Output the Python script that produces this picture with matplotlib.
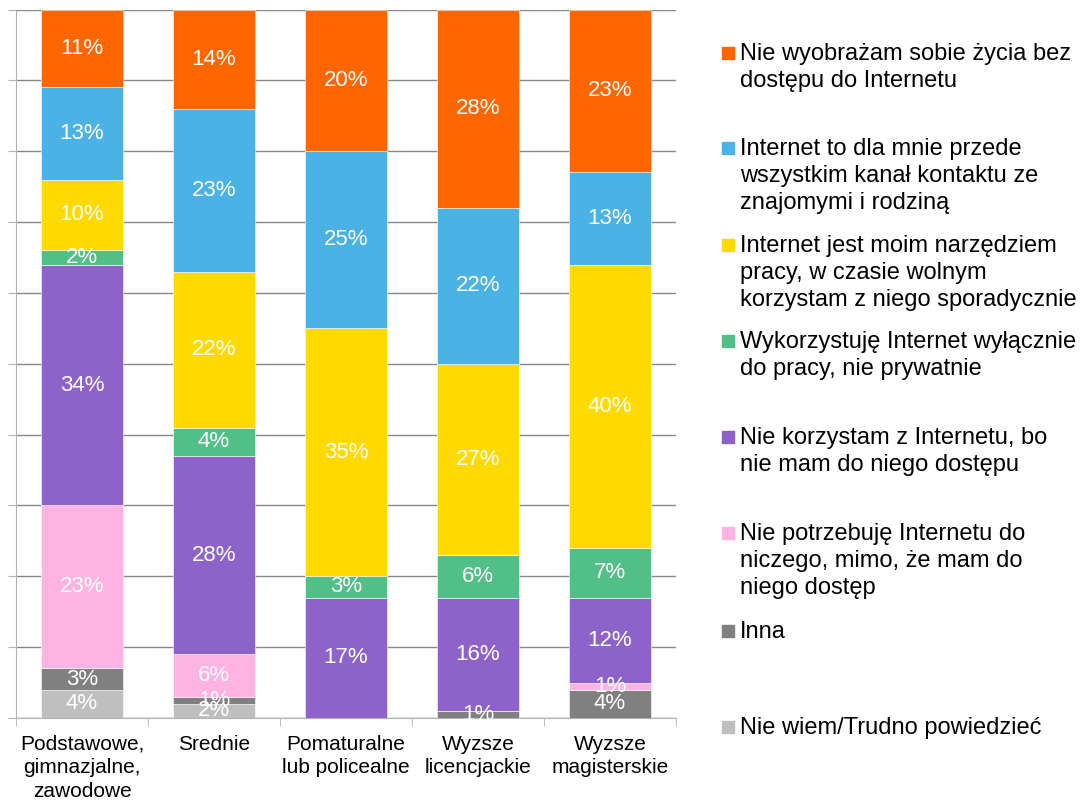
import numpy as np
import matplotlib.pyplot as plt
from matplotlib.patches import Rectangle

plt.rcParams['font.family'] = ['Liberation Sans', 'DejaVu Sans']

categories = ["Podstawowe,\ngimnazjalne,\nzawodowe", "Srednie",
              "Pomaturalne\nlub policealne", "Wyzsze\nlicencjackie",
              "Wyzsze\nmagisterskie"]

# series listed bottom -> top of the stack
series_names = [
    "Nie wiem/Trudno powiedzieć",
    "Inna",
    "Nie potrzebuję Internetu do\nniczego, mimo, że mam do\nniego dostęp",
    "Nie korzystam z Internetu, bo\nnie mam do niego dostępu",
    "Wykorzystuję Internet wyłącznie\ndo pracy, nie prywatnie",
    "Internet jest moim narzędziem\npracy, w czasie wolnym\nkorzystam z niego sporadycznie",
    "Internet to dla mnie przede\nwszystkim kanał kontaktu ze\nznajomymi i rodziną",
    "Nie wyobrażam sobie życia bez\ndostępu do Internetu",
]
nie_wiem = [4, 2, 0, 0, 0]
inna = [3, 1, 0, 1, 4]
nie_potrzebuje = [23, 6, 0, 0, 1]
nie_korzystam = [34, 28, 17, 16, 12]
wykorzystuje = [2, 4, 3, 6, 7]
narzedzie = [10, 22, 35, 27, 40]
kontakt = [13, 23, 25, 22, 13]
nie_wyobrazam = [11, 14, 20, 28, 23]

values = [nie_wiem, inna, nie_potrzebuje, nie_korzystam, wykorzystuje,
          narzedzie, kontakt, nie_wyobrazam]
colors = ["#bfbfbf", "#808080", "#ffb3e3", "#8e63c9", "#52be88",
          "#ffda00", "#4ab2e4", "#ff6600"]

W, H = 1084, 800
fig = plt.figure(figsize=(W / 100, H / 100), dpi=100)
ax = fig.add_axes([16 / W, (H - 718) / H, 660 / W, 708.5 / H])

x = np.arange(len(categories))
bottom = np.zeros(len(categories))
for vals, col in zip(values, colors):
    vals = np.array(vals, dtype=float)
    ax.bar(x, vals, 0.62, bottom=bottom, color=col, edgecolor='white',
           linewidth=0.4, zorder=3)
    for xi, v, b in zip(x, vals, bottom):
        if v > 0:
            ax.text(xi, b + v / 2, f"{int(v)}%", ha='center', va='center',
                    color='white', fontsize=16, zorder=4)
    bottom += vals

ax.set_xlim(-0.5, len(categories) - 0.5)
ax.set_ylim(0, 100)
ax.set_yticks(np.arange(0, 101, 10))
ax.set_yticklabels([])
ax.yaxis.grid(True, color='#888888', linewidth=1, zorder=0)
ax.set_xticks(x)
ax.set_xticklabels(categories, fontsize=15, linespacing=1.3)
ax.set_xticks(np.arange(-0.5, len(categories), 1), minor=True)
ax.tick_params(axis='x', which='major', length=0, pad=12)
ax.tick_params(axis='x', which='minor', length=6, color='#b3b3b3')
ax.tick_params(axis='y', length=6, color='#b3b3b3')
for s in ['top', 'right']:
    ax.spines[s].set_visible(False)
ax.spines['left'].set_color('#b3b3b3')
ax.spines['bottom'].set_color('#b3b3b3')

# legend, top entry first
leg_y = [53, 148, 245, 341, 437, 533, 631, 727]
for name, col, yc in zip(series_names[::-1], colors[::-1], leg_y):
    fig.add_artist(Rectangle((722 / W, (H - yc - 6) / H), 12 / W, 12 / H,
                             transform=fig.transFigure, color=col))
    fig.text(740 / W, (H - yc + 10) / H, name, fontsize=17, va='top',
             ha='left', linespacing=1.28)

fig.savefig("out.png", dpi=100)
